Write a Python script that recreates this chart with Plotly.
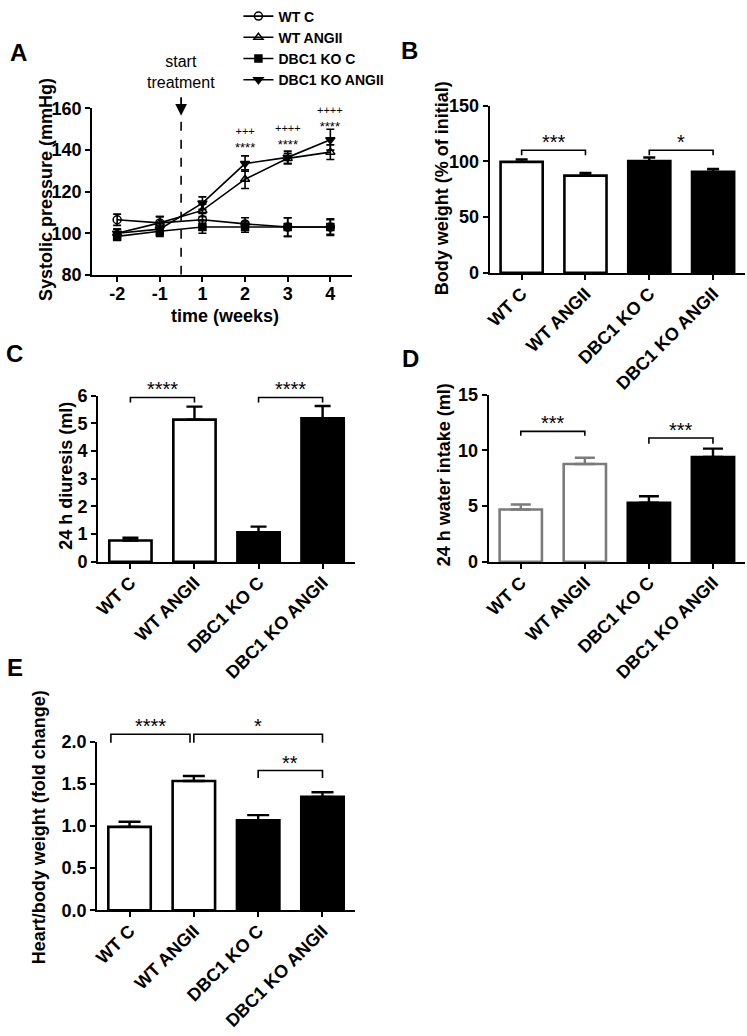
import plotly.graph_objects as go

FONT = "Arial, 'Liberation Sans', Helvetica, sans-serif"
W, H = 747, 1036

# ---------------- data ----------------
weeks = ["-2", "-1", "1", "2", "3", "4"]
wt_c = [106.5, 105, 106.5, 104.5, 103, 103]
wt_c_err = [2.7, 3, 3, 3, 4.5, 4]
wt_angii = [100, 105, 111, 126, 136, 139]
wt_angii_err = [2, 3, 3, 4.5, 2.5, 3.5]
ko_c = [98.5, 101, 103, 103, 103, 103]
ko_c_err = [2, 2.5, 3, 2.5, 4.5, 3.5]
ko_angii = [100, 102, 114.5, 133.5, 136.5, 145]
ko_angii_err = [2, 3, 3, 3.7, 3, 5]

groups = ["WT C", "WT ANGII", "DBC1 KO C", "DBC1 KO ANGII"]
body_weight = [99.5, 87.2, 100.2, 90.7]
body_weight_err = [2.3, 2.4, 3.2, 2.6]
diuresis = [0.77, 5.13, 1.07, 5.18]
diuresis_err = [0.1, 0.47, 0.2, 0.44]
water_intake = [4.7, 8.78, 5.3, 9.4]
water_intake_err = [0.45, 0.55, 0.58, 0.75]
heart_body = [0.99, 1.535, 1.067, 1.347]
heart_body_err = [0.062, 0.06, 0.063, 0.055]

# significance labels for panel A
a_sig_weeks = ["2", "3", "4"]
a_sig_plus = ["+++", "++++", "++++"]
a_sig_star = ["****", "****", "****"]


def px_x(p):
    return p / W


def px_y(p):
    return 1 - p / H


fig = go.Figure()

# ---------------- panel A ----------------
series = [
    ("WT C", wt_c, wt_c_err, "circle-open", 8),
    ("WT ANGII", wt_angii, wt_angii_err, "triangle-up-open", 8),
    ("DBC1 KO C", ko_c, ko_c_err, "square", 7),
    ("DBC1 KO ANGII", ko_angii, ko_angii_err, "triangle-down", 8),
]
for name, vals, errs, sym, size in series:
    fig.add_trace(go.Scatter(
        x=weeks, y=vals, name=name, mode="lines+markers",
        line=dict(color="black", width=1.6),
        marker=dict(symbol=sym, size=size, color="black",
                    line=dict(color="black", width=1.5)),
        error_y=dict(type="data", array=errs, color="black",
                     thickness=1.6, width=4),
        xaxis="x", yaxis="y", cliponaxis=False,
    ))

# ---------------- bar panels ----------------
fill_cols = ["white", "white", "black", "black"]


def add_bars(vals, errs, xa, ya, line_cols, capw):
    for g, v, e, fc, lc in zip(groups, vals, errs, fill_cols, line_cols):
        fig.add_trace(go.Bar(
            x=[g], y=[v], width=0.66, showlegend=False,
            marker=dict(color=fc, line=dict(color=lc, width=2.6)),
            error_y=dict(type="data", array=[e], arrayminus=[0],
                         symmetric=False, color=lc, thickness=2.4,
                         width=capw),
            xaxis=xa, yaxis=ya,
        ))


blk = ["black"] * 4
add_bars(body_weight, body_weight_err, "x2", "y2", blk, 6)
add_bars(diuresis, diuresis_err, "x3", "y3", blk, 8)
add_bars(water_intake, water_intake_err, "x4", "y4",
         ["#7b7b7b", "#7b7b7b", "black", "black"], 10)
add_bars(heart_body, heart_body_err, "x5", "y5", blk, 11)

# ---------------- axes ----------------
tickfont = dict(family=FONT, size=18, color="black", weight="bold")
common = dict(showline=True, linecolor="black", linewidth=2.4,
              ticks="outside", ticklen=5, tickwidth=2.4, tickcolor="black",
              showgrid=False, zeroline=False, tickfont=tickfont)

AX = {
    "A": dict(xd=[px_x(88), px_x(349)], yd=[px_y(264), px_y(93)], xr=[-0.58, 5.5], yr=[80, 160]),
    "B": dict(xd=[px_x(488), px_x(745)], yd=[px_y(262), px_y(90)], xr=[-0.5, 3.5], yr=[0, 150]),
    "C": dict(xd=[px_x(94), px_x(352)], yd=[px_y(559), px_y(388)], xr=[-0.5, 3.5], yr=[0, 6]),
    "D": dict(xd=[px_x(487), px_x(745)], yd=[px_y(559), px_y(387)], xr=[-0.5, 3.5], yr=[0, 15]),
    "E": dict(xd=[px_x(93), px_x(352)], yd=[px_y(917), px_y(744)], xr=[-0.5, 3.5], yr=[0, 2]),
}
yticks = {"A": [80, 100, 120, 140, 160], "B": [0, 50, 100, 150],
          "C": [0, 1, 2, 3, 4, 5, 6], "D": [0, 5, 10, 15], "E": [0, 0.5, 1.0, 1.5, 2.0]}

lay = {}
for i, key in enumerate(["A", "B", "C", "D", "E"]):
    sfx = "" if i == 0 else str(i + 1)
    a = AX[key]
    xa = dict(domain=a["xd"], anchor="y" + sfx, type="category", range=a["xr"],
              ticklabelstandoff=-4, **common)
    if key != "A":
        xa["tickangle"] = -45
    ya = dict(domain=a["yd"], anchor="x" + sfx, range=a["yr"], tickvals=yticks[key], **common)
    if key == "E":
        ya["tickformat"] = ".1f"
    lay["xaxis" + sfx] = xa
    lay["yaxis" + sfx] = ya
fig.update_layout(**lay)


def to_paper(key, xv, yv):
    a = AX[key]
    fx = (xv - a["xr"][0]) / (a["xr"][1] - a["xr"][0])
    fy = (yv - a["yr"][0]) / (a["yr"][1] - a["yr"][0])
    return (a["xd"][0] + fx * (a["xd"][1] - a["xd"][0]),
            a["yd"][0] + fy * (a["yd"][1] - a["yd"][0]))


# ---------------- shapes & annotations ----------------
shapes = []
annos = []

# dashed treatment line + arrow
shapes.append(dict(type="line", xref="x", yref="y", x0=1.5, x1=1.5, y0=80, y1=155,
                   line=dict(color="black", width=1.6, dash="dash")))
annos.append(dict(xref="x", yref="y", x=1.5, y=156.5, text="", showarrow=True,
                  ax=0, ay=-20, arrowhead=2, arrowsize=1.3, arrowwidth=1.8,
                  arrowcolor="black"))
annos.append(dict(xref="paper", yref="paper", x=px_x(177), y=px_y(55),
                  xanchor="center", yanchor="middle",
                  text="start<br>treatment", showarrow=False,
                  font=dict(family=FONT, size=16, color="black")))

# A significance (two-line labels), x given as category index
sig_y = [145.0, 146.5, 155.0]
for wk, pl, st, yy in zip(a_sig_weeks, a_sig_plus, a_sig_star, sig_y):
    annos.append(dict(xref="x", yref="y", x=weeks.index(wk), y=yy,
                      xanchor="center", yanchor="middle",
                      text=f"<span style='font-size:11px'>{pl}</span><br>{st}",
                      showarrow=False,
                      font=dict(family=FONT, size=13, color="black")))

# brackets: (x0, x1, y_top, y_bottom, label)
brackets = {
    "B": [(0, 1, 110, 105.5, "***"), (2, 3, 110, 105.5, "*")],
    "C": [(0, 1, 5.93, 5.75, "****"), (2, 3, 5.93, 5.75, "****")],
    "D": [(0, 1, 11.7, 11.3, "***"), (2, 3, 11.1, 10.6, "***")],
    "E": [(-0.29, 0.94, 2.09, 1.99, "****"), (1.0, 3.0, 2.09, 1.99, "*"),
          (2, 3, 1.66, 1.57, "**")],
}
for key, items in brackets.items():
    for x0, x1, yt, yb, lab in items:
        p0x, p0y = to_paper(key, x0, yb)
        p1x, p1y = to_paper(key, x1, yt)
        shapes.append(dict(type="path", xref="paper", yref="paper",
                           path=f"M {p0x},{p0y} L {p0x},{p1y} L {p1x},{p1y} L {p1x},{p0y}",
                           line=dict(color="black", width=1.6)))
        annos.append(dict(xref="paper", yref="paper", x=(p0x + p1x) / 2, y=p1y,
                          xanchor="center", yanchor="bottom", yshift=-5,
                          text=lab, showarrow=False,
                          font=dict(family=FONT, size=20, color="black")))

# panel letters
for lab, xx, yy in [("A", 14, 35), ("B", 407, 33), ("C", 10, 345),
                    ("D", 408, 350), ("E", 10, 668)]:
    annos.append(dict(xref="paper", yref="paper", x=px_x(xx), y=px_y(yy), text=lab,
                      xanchor="center", yanchor="middle", showarrow=False,
                      font=dict(family=FONT, size=24, color="black", weight="bold")))

# axis titles
titlefont = dict(family=FONT, size=18, color="black", weight="bold")
for txt, xx, yy in [("Systolic pressure (mmHg)", 42, 176),
                    ("Body weight (% of initial)", 440, 175),
                    ("24 h diuresis (ml)", 62, 471),
                    ("24 h water intake (ml)", 442, 470),
                    ("Heart/body weight (fold change)", 34, 832)]:
    annos.append(dict(xref="paper", yref="paper", x=px_x(xx), y=px_y(yy), text=txt,
                      xanchor="center", yanchor="middle",
                      textangle=-90, showarrow=False, font=titlefont))
annos.append(dict(xref="paper", yref="paper", x=px_x(221), y=px_y(306),
                  xanchor="center", yanchor="middle",
                  text="time (weeks)", showarrow=False, font=titlefont))

fig.update_layout(
    shapes=shapes, annotations=annos,
    width=W, height=H, autosize=False,
    margin=dict(l=0, r=0, t=0, b=0),
    paper_bgcolor="white", plot_bgcolor="white",
    barmode="overlay",
    showlegend=True,
    legend=dict(x=px_x(235), y=px_y(-18), xanchor="left", yanchor="top",
                font=dict(family=FONT, size=14, color="black", weight="bold"),
                bgcolor="rgba(0,0,0,0)", itemwidth=30, tracegroupgap=0),
    font=dict(family=FONT, color="black"),
)

fig.write_html("out.html", config={"displayModeBar": False},
               post_script="document.body.style.margin='0px';")
